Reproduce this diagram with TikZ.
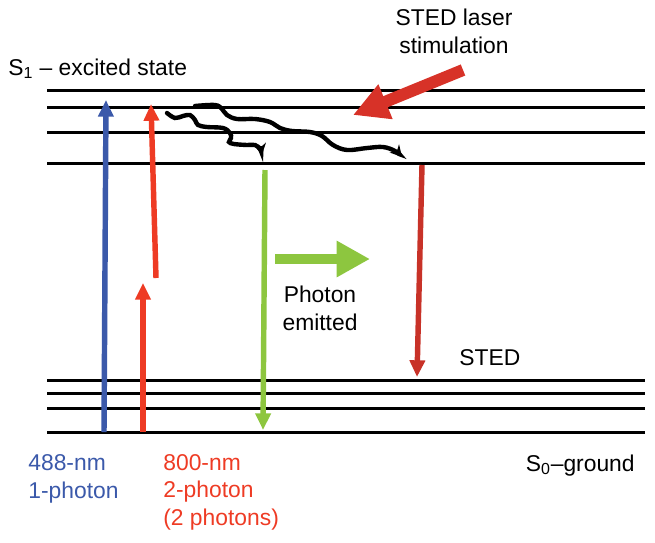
\documentclass[tikz,border=0pt]{standalone}
\usepackage{fontspec}
\setmainfont{Liberation Sans}
\usetikzlibrary{arrows.meta}
\definecolor{pumpblue}{RGB}{59,89,170}
\definecolor{pumpred}{RGB}{238,59,36}
\definecolor{stedred}{RGB}{200,50,40}
\definecolor{emitgreen}{RGB}{141,198,63}
\definecolor{laserred}{RGB}{215,50,40}

\begin{document}
\begin{tikzpicture}[x=0.02cm, y=-0.02cm,
    levelline/.style={black, line width=1.7pt},
    beam/.style={line width=3.1pt, -{Triangle[length=9.5pt, width=8.5pt]}},
    relax/.style={black, line width=2.5pt, line cap=round, -{Stealth[length=6.5pt, width=7pt]}},
    txt/.style={font=\fontsize{13}{15.5}\selectfont, inner sep=0pt}]
    \useasboundingbox (0,0) rectangle (655,542);
    % energy levels
    \foreach \y in {90,107,132,163}
        \draw[levelline] (47,\y) -- (645,\y);
    \foreach \y in {380,393,408,432}
        \draw[levelline] (47,\y) -- (645,\y);
    % excitation
    \draw[beam, pumpblue] (104,432) -- (106,100);
    \draw[beam, pumpred] (143,432) -- (143,283);
    \draw[beam, pumpred] (156,278) -- (151,104);
    % vibrational relaxation
    \draw[relax] plot[smooth, tension=0.6] coordinates {(167,113) (175,118) (183,116) (190,115) (195,120) (198,125) (207,127) (223,128) (230,133) (231,138) (229,142) (234,144) (247,145) (255,145) (260,149) (262,155)};
    \draw[relax] plot[smooth, tension=0.6] coordinates {(195,106) (215,105) (222,109) (227,115) (237,119) (255,119) (270,122) (280,128) (292,131) (310,132) (322,136) (333,145) (347,150) (367,148) (383,147) (395,151) (402,157)};
    % emission
    \draw[beam, emitgreen] (265,170) -- (263,430);
    \draw[beam, stedred] (422,165) -- (417,377);
    \draw[emitgreen, line width=6.2pt, -{Triangle[length=19pt, width=19.5pt]}] (275,259) -- (370,259);
    \draw[laserred, line width=6.8pt, -{Triangle[length=20pt, width=20pt]}] (463,70) -- (353,115);
    % labels
    \node[txt, anchor=base west] (s1label) at (8,75) {S\textsubscript{1} – excited state};
    \node[txt, anchor=base, align=center] (laserlabel) at (454,53) {STED laser\\stimulation};
    \node[txt, anchor=base, align=center] (photonlabel) at (320,330) {Photon\\emitted};
    \node[txt, anchor=base west] (stedlabel) at (459,365) {STED};
    \node[txt, anchor=base west, align=left, pumpblue] (bluelabel) at (28,498) {488-nm\\1-photon};
    \node[txt, anchor=base west, align=left, pumpred] (redlabel) at (163,525) {800-nm\\2-photon\\(2 photons)};
    \node[txt, anchor=base east] (s0label) at (635,471) {S\textsubscript{0}–ground};
\end{tikzpicture}
\end{document}
